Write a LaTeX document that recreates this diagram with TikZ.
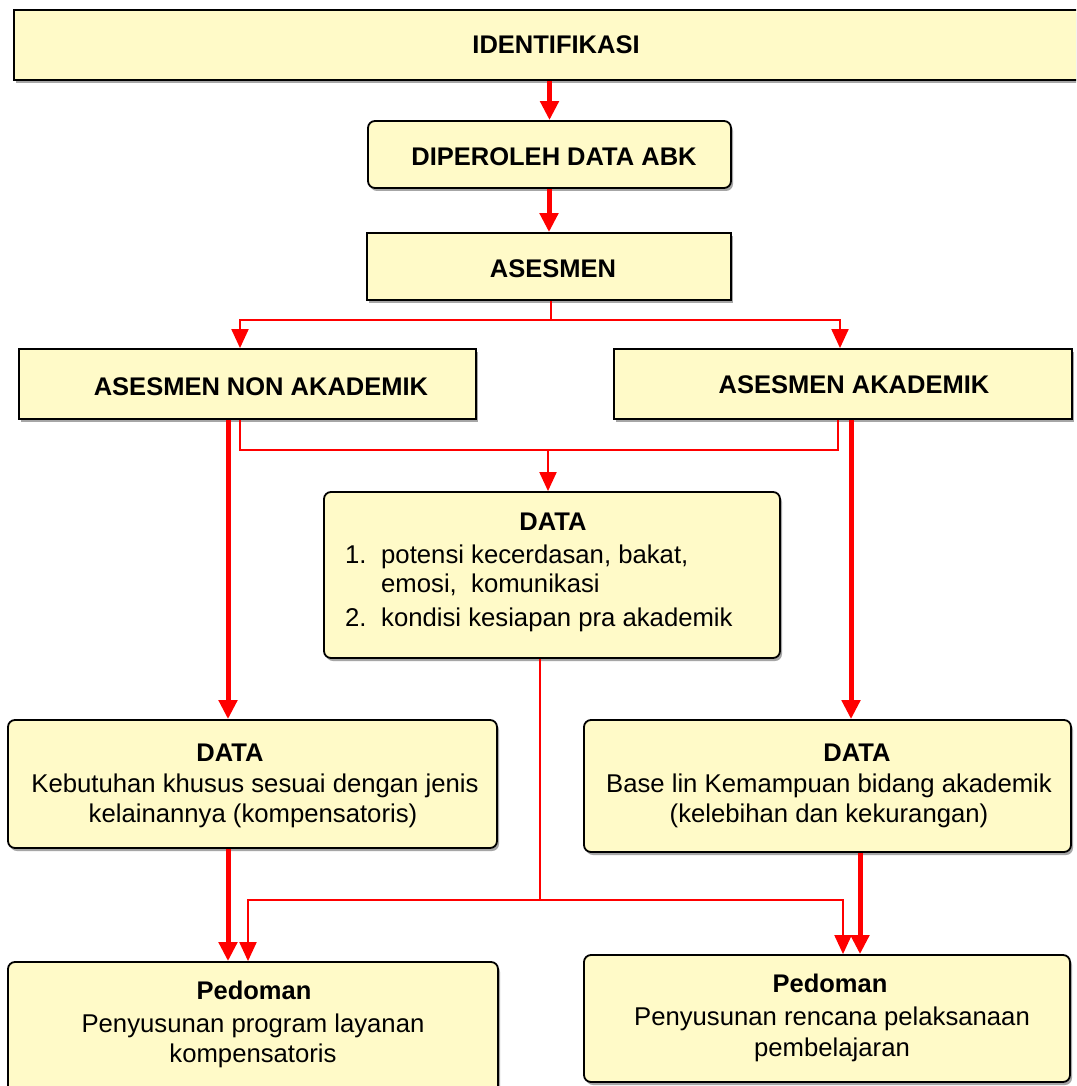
\documentclass[tikz,border=0pt]{standalone}
\usepackage{fontspec}
\setmainfont{Liberation Sans}
\usetikzlibrary{arrows.meta,shadows}
\definecolor{boxfill}{RGB}{255,250,200}
\definecolor{arrred}{RGB}{255,0,0}
\begin{document}
\begin{tikzpicture}[x=1pt,y=-1pt,
  box/.style={draw=black, line width=1.8pt, fill=boxfill, inner sep=0pt,
    drop shadow={shadow xshift=2pt, shadow yshift=-3pt, fill=gray!70, opacity=1}},
  rbox/.style={box, rounded corners=7pt},
  tt/.style={font=\fontsize{25.5}{30}\selectfont\bfseries, anchor=base, inner sep=0pt},
  tx/.style={font=\fontsize{25.7}{30}\selectfont, anchor=base, inner sep=0pt},
  bigarr/.style={draw=arrred, line width=5pt, -{Triangle[length=19pt,width=18pt]}},
  thinln/.style={draw=arrred, line width=2pt},
  thinarr/.style={thinln, -{Triangle[length=19pt,width=17pt]}}]
\useasboundingbox (0,0) rectangle (1076,1086);
\clip (0,0) rectangle (1076,1086);
\fill[white] (0,0) rectangle (1076,1086);
% boxes
\node[box, minimum width=1068pt, minimum height=70pt] (ident) at (548,45) {};
\node[rbox, minimum width=363pt, minimum height=67pt] (abk) at (549.5,154.5) {};
\node[box, minimum width=364pt, minimum height=67pt] (ases) at (549,266.5) {};
\node[box, minimum width=457pt, minimum height=70pt] (nonak) at (247.5,384) {};
\node[box, minimum width=458pt, minimum height=70pt] (akad) at (843,384) {};
\node[rbox, minimum width=456pt, minimum height=166pt] (dmid) at (552,575) {};
\node[rbox, minimum width=489pt, minimum height=128pt] (dleft) at (252.5,784) {};
\node[rbox, minimum width=487pt, minimum height=132pt] (dright) at (827.5,786) {};
\node[rbox, minimum width=490pt, minimum height=136pt] (pleft) at (253,1030) {};
\node[rbox, minimum width=486pt, minimum height=127pt] (pright) at (827,1018.5) {};
% texts
\node[tt] (tident) at (556,54) {IDENTIFIKASI};
\node[tt] (tabk) at (554,166) {DIPEROLEH DATA ABK};
\node[tt] (tases) at (553,277) {ASESMEN};
\node[tt] (tnonak) at (261,395) {ASESMEN NON AKADEMIK};
\node[tt] (takad) at (854,393) {ASESMEN AKADEMIK};
\node[tt] (tdmid) at (553,530) {DATA};
\node[tx, anchor=base west] (n1) at (345,563) {1.};
\node[tx, anchor=base west] (l1) at (381,563) {potensi kecerdasan, bakat,};
\node[tx, anchor=base west] (l2) at (381,592) {emosi,\ \ komunikasi};
\node[tx, anchor=base west] (n2) at (345,626) {2.};
\node[tx, anchor=base west] (l3) at (381,626) {kondisi kesiapan pra akademik};
\node[tt] (tdleft) at (230,761) {DATA};
\node[tx] (dl1) at (255,792) {Kebutuhan khusus sesuai dengan jenis};
\node[tx] (dl2) at (253,822) {kelainannya (kompensatoris)};
\node[tt] (tdright) at (857,761) {DATA};
\node[tx] (dr1) at (829,792) {Base lin Kemampuan bidang akademik};
\node[tx] (dr2) at (829,822) {(kelebihan dan kekurangan)};
\node[tt] (tpleft) at (254,999) {Pedoman};
\node[tx] (pl1) at (253,1032) {Penyusunan program layanan};
\node[tx] (pl2) at (253,1062) {kompensatoris};
\node[tt] (tpright) at (830,992) {Pedoman};
\node[tx] (pr1) at (832,1025) {Penyusunan rencana pelaksanaan};
\node[tx] (pr2) at (832,1056) {pembelajaran};
% helper coordinates
\coordinate (x228) at (228,0);
\coordinate (x240) at (240,0);
\coordinate (x248) at (248,0);
\coordinate (x840) at (840,0);
\coordinate (x838) at (838,0);
\coordinate (x843) at (843,0);
\coordinate (x851) at (851,0);
\coordinate (x860) at (860,0);
\coordinate (split1) at (551,320);
\coordinate (m1) at (548,450);
\coordinate (m2) at (540,900);
% connectors
\draw[bigarr] (ident.south -| abk.north) -- (abk.north);
\draw[bigarr] (abk.south -| ases.north) -- (ases.north);
\draw[thinln] (ases.south -| split1) -- (split1);
\draw[thinarr] (split1) -| (nonak.north -| x240);
\draw[thinarr] (split1) -| (akad.north -| x840);
\draw[thinln] (nonak.south -| x240) |- (m1) -| (akad.south -| x838);
\draw[thinarr] (m1) -- (dmid.north -| m1);
\draw[bigarr] (nonak.south -| x228) -- (dleft.north -| x228);
\draw[bigarr] (akad.south -| x851) -- (dright.north -| x851);
\draw[thinln] (dmid.south -| m2) -- (m2);
\draw[thinarr] (m2) -| (pleft.north -| x248);
\draw[thinarr] (m2) -| (pright.north -| x843);
\draw[bigarr] (dleft.south -| x228) -- (pleft.north -| x228);
\draw[bigarr] (dright.south -| x860) -- (pright.north -| x860);
\end{tikzpicture}
\end{document}
